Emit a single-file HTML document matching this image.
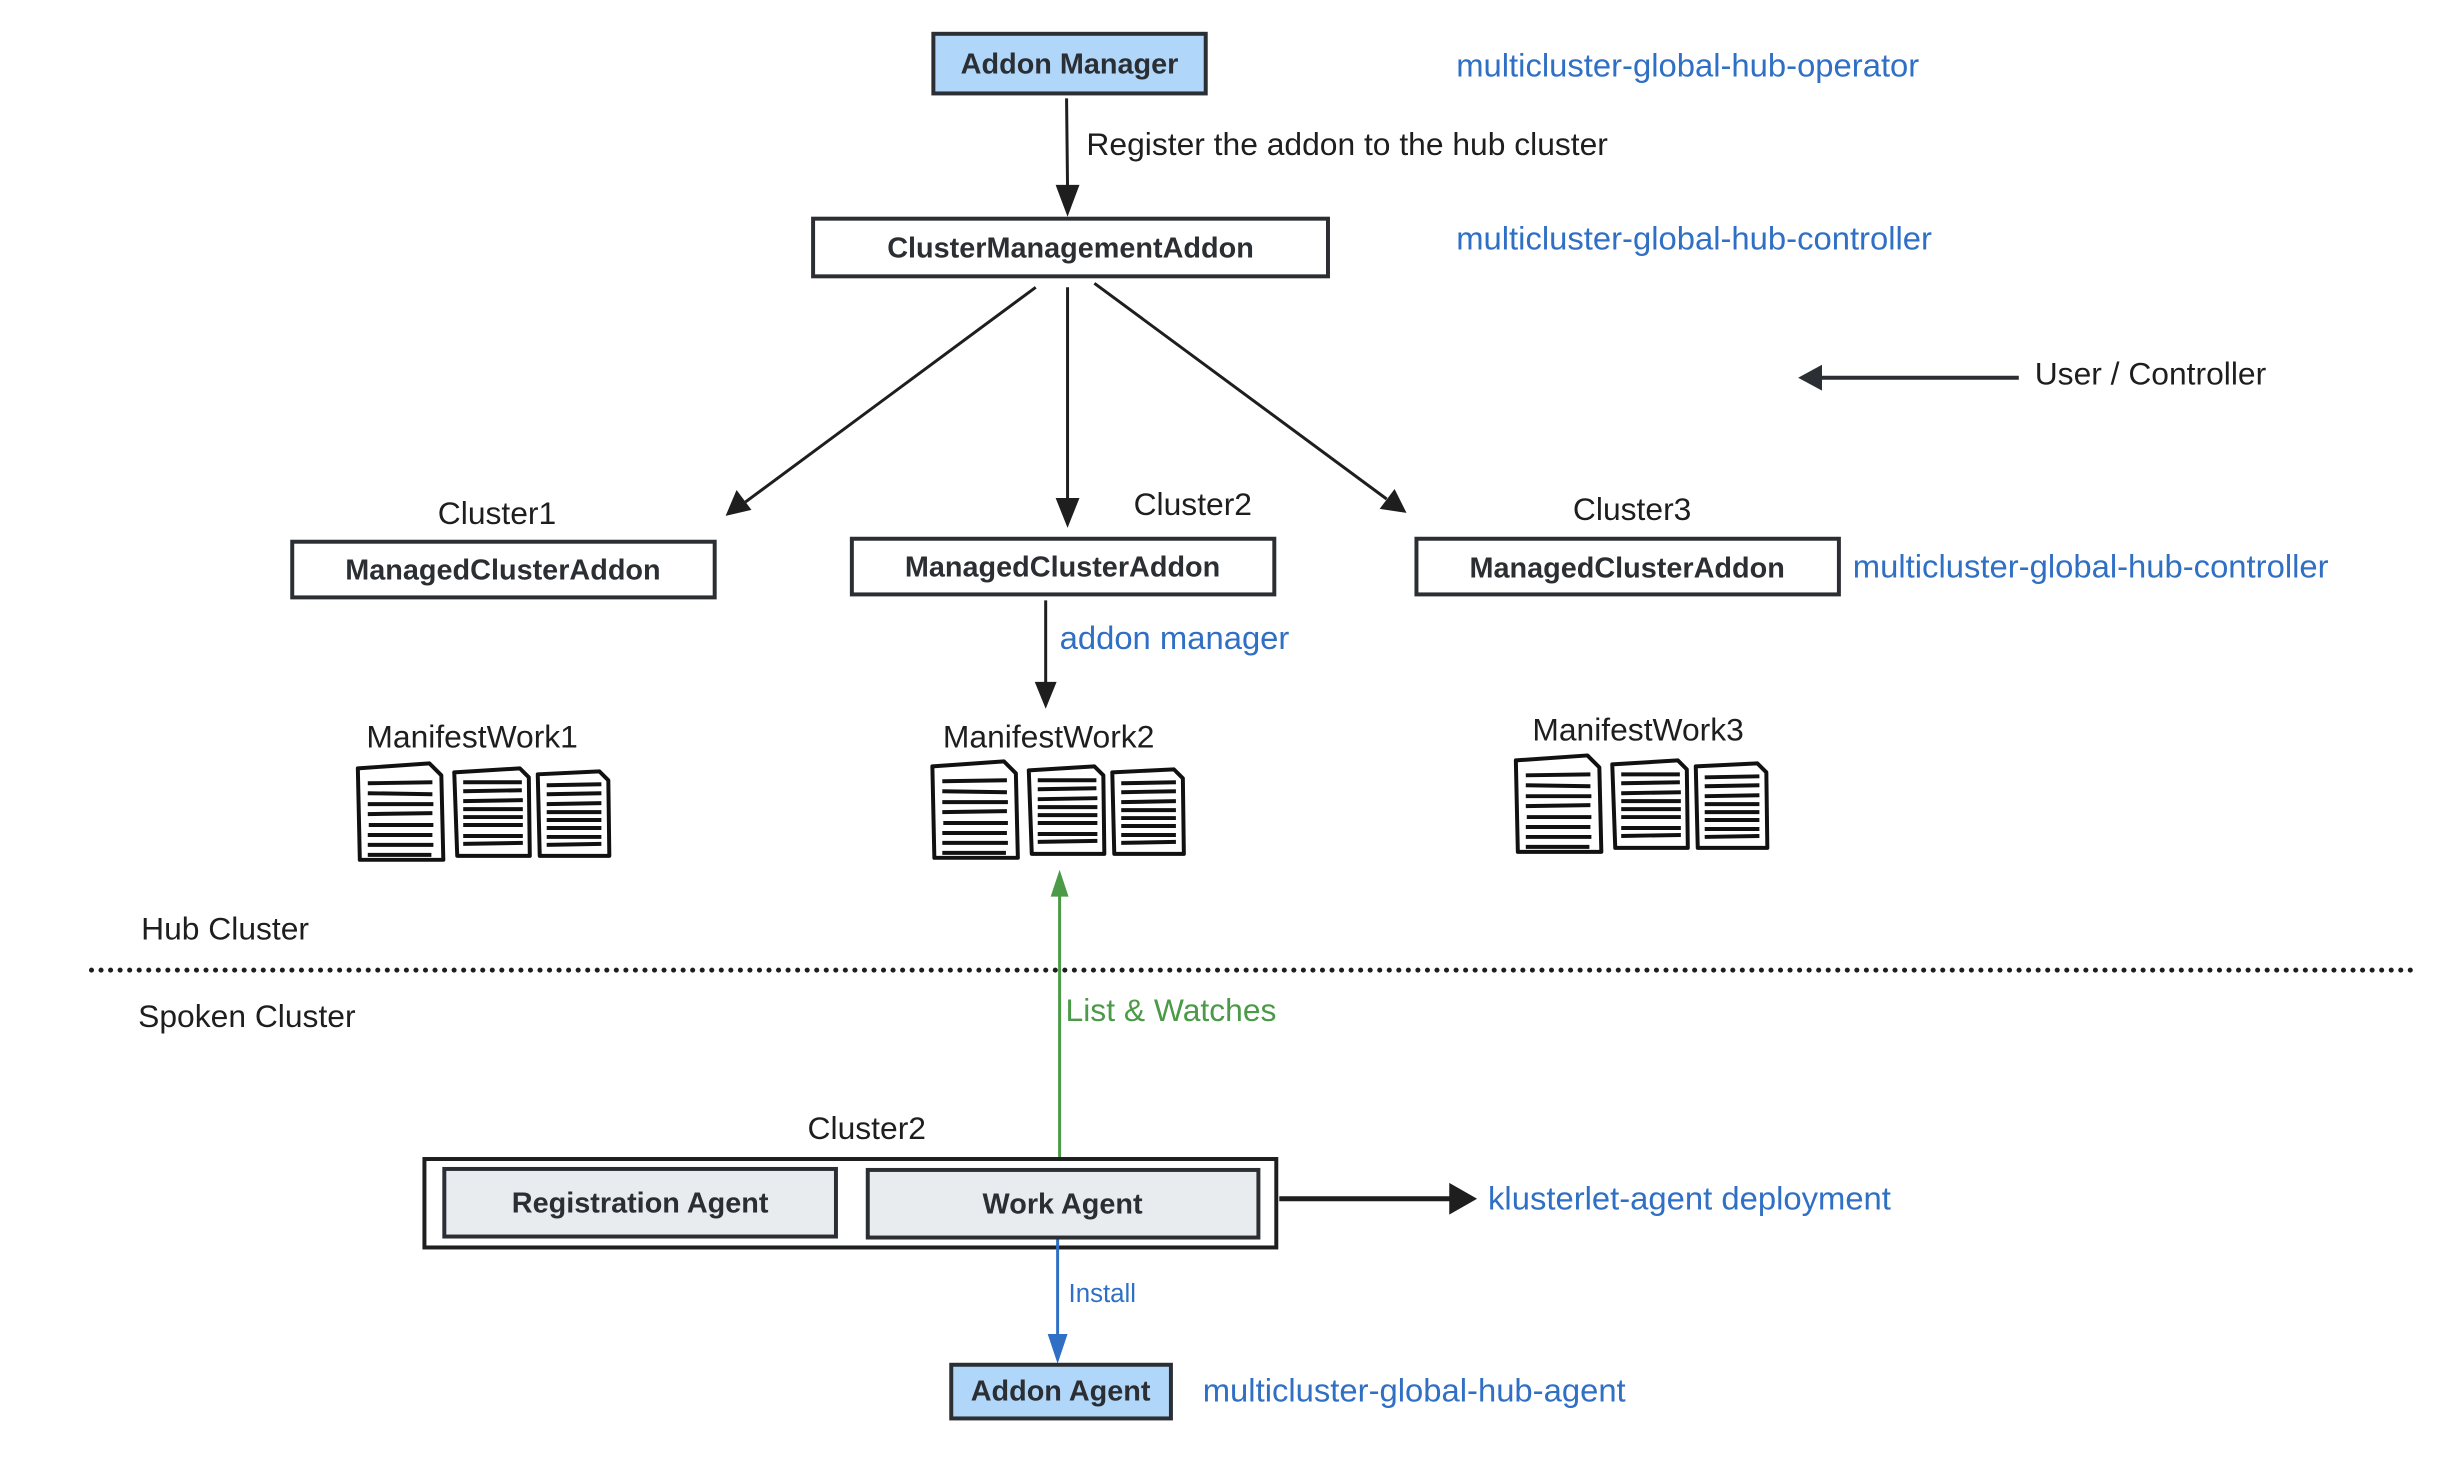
<!DOCTYPE html>
<html><head><meta charset="utf-8"><style>
html,body{margin:0;padding:0;background:#fff;}
svg{display:block;}
text{font-family:"Liberation Sans",sans-serif;}
.lbl{font-size:32px;fill:#1e1e1e;}
.blue{font-size:33px;fill:#2f6fc4;}
.bx{font-size:29px;font-weight:bold;fill:#2b2f33;text-anchor:middle;}
</style></head><body>
<svg width="2460" height="1464" viewBox="0 0 2460 1464" xmlns="http://www.w3.org/2000/svg">
<defs>
<g id="docs" fill="#fff" stroke="#111" stroke-linejoin="round">
 <path d="M0 5 L72 0 L84 12 L86 97 L2 97 Z" stroke-width="4"/>
 <g stroke-width="4"><line x1="10" y1="20" x2="75" y2="19"/><line x1="10" y1="30" x2="75" y2="31"/><line x1="10" y1="41" x2="76" y2="41"/><line x1="10" y1="51" x2="75" y2="50"/><line x1="11" y1="62" x2="76" y2="62"/><line x1="10" y1="72" x2="75" y2="72"/><line x1="10" y1="82" x2="76" y2="82"/><line x1="10" y1="92" x2="74" y2="92"/></g>
 <path d="M97 9 L163 5 L172 14 L173 93 L100 93 Z" stroke-width="4"/>
 <g stroke-width="4"><line x1="106" y1="19" x2="165" y2="19"/><line x1="106" y1="28" x2="165" y2="27"/><line x1="106" y1="38" x2="166" y2="37"/><line x1="106" y1="46" x2="166" y2="46"/><line x1="106" y1="54" x2="166" y2="54"/><line x1="106" y1="62" x2="166" y2="62"/><line x1="106" y1="73" x2="166" y2="73"/><line x1="106" y1="81" x2="166" y2="80"/></g>
 <path d="M181 11 L243 8 L252 17 L253 93 L183 93 Z" stroke-width="4"/>
 <g stroke-width="4"><line x1="190" y1="22" x2="245" y2="21"/><line x1="190" y1="31" x2="245" y2="30"/><line x1="190" y1="41" x2="245" y2="40"/><line x1="190" y1="49" x2="245" y2="49"/><line x1="190" y1="57" x2="245" y2="57"/><line x1="190" y1="65" x2="245" y2="65"/><line x1="190" y1="74" x2="245" y2="74"/><line x1="190" y1="82" x2="245" y2="81"/></g>
</g>
</defs>
<g transform="scale(0.994)">
<rect x="939" y="34" width="274" height="60" fill="#b0d6fa" stroke="#2b2f33" stroke-width="4"/>
<text class="bx" x="1076" y="74">Addon Manager</text>
<text class="blue" x="1465" y="77">multicluster-global-hub-operator</text>

<line x1="1073" y1="99" x2="1074" y2="190" stroke="#1e1e1e" stroke-width="3"/>
<polygon points="1062,186 1086,186 1074,218" fill="#1e1e1e"/>
<text class="lbl" x="1093" y="156">Register the addon to the hub cluster</text>

<rect x="818" y="220" width="518" height="58" fill="#fff" stroke="#2b2f33" stroke-width="4"/>
<text class="bx" x="1077" y="259">ClusterManagementAddon</text>
<text class="blue" x="1465" y="251">multicluster-global-hub-controller</text>

<line x1="1042" y1="289" x2="750" y2="505" stroke="#1e1e1e" stroke-width="3"/>
<polygon points="730,519 741,493 756,513" fill="#1e1e1e"/>
<line x1="1074" y1="289" x2="1074" y2="505" stroke="#1e1e1e" stroke-width="3"/>
<polygon points="1062,501 1086,501 1074,531" fill="#1e1e1e"/>
<line x1="1101" y1="285" x2="1395" y2="502" stroke="#1e1e1e" stroke-width="3"/>
<polygon points="1415,516 1388,512 1403,492" fill="#1e1e1e"/>

<line x1="2031" y1="380" x2="1830" y2="380" stroke="#2b2f33" stroke-width="4"/>
<polygon points="1809,380 1833,367 1833,393" fill="#2b2f33"/>
<text class="lbl" x="2047" y="387">User / Controller</text>

<text class="lbl" x="500" y="527" text-anchor="middle">Cluster1</text>
<rect x="294" y="545" width="425" height="56" fill="#fff" stroke="#2b2f33" stroke-width="4"/>
<text class="bx" x="506" y="583">ManagedClusterAddon</text>

<text class="lbl" x="1200" y="518" text-anchor="middle">Cluster2</text>
<rect x="857" y="542" width="425" height="56" fill="#fff" stroke="#2b2f33" stroke-width="4"/>
<text class="bx" x="1069" y="580">ManagedClusterAddon</text>

<text class="lbl" x="1642" y="523" text-anchor="middle">Cluster3</text>
<rect x="1425" y="542" width="425" height="56" fill="#fff" stroke="#2b2f33" stroke-width="4"/>
<text class="bx" x="1637" y="581">ManagedClusterAddon</text>
<text class="blue" x="1864" y="581">multicluster-global-hub-controller</text>

<line x1="1052" y1="604" x2="1052" y2="690" stroke="#1e1e1e" stroke-width="3"/>
<polygon points="1041,686 1063,686 1052,713" fill="#1e1e1e"/>
<text class="blue" x="1066" y="653">addon manager</text>

<text class="lbl" x="475" y="752" text-anchor="middle">ManifestWork1</text>
<use href="#docs" x="360" y="768"/>
<text class="lbl" x="1055" y="752" text-anchor="middle">ManifestWork2</text>
<use href="#docs" x="938" y="766"/>
<text class="lbl" x="1648" y="745" text-anchor="middle">ManifestWork3</text>
<use href="#docs" x="1525" y="760"/>

<text class="lbl" x="142" y="945">Hub Cluster</text>
<line x1="92" y1="976" x2="2430" y2="976" stroke="#1e1e1e" stroke-width="5" stroke-dasharray="0.1 9.5" stroke-linecap="round"/>
<text class="lbl" x="139" y="1033">Spoken Cluster</text>

<line x1="1066" y1="1169" x2="1066" y2="900" stroke="#4a9a47" stroke-width="3"/>
<polygon points="1057,902 1075,902 1066,875" fill="#4a9a47"/>
<text x="1072" y="1027" style="font-size:32px;fill:#4a9a47">List &amp; Watches</text>

<text class="lbl" x="872" y="1146" text-anchor="middle">Cluster2</text>
<rect x="427" y="1166" width="857" height="89" fill="#fff" stroke="#1e1e1e" stroke-width="4"/>
<rect x="447" y="1176" width="394" height="68" fill="#e8ecef" stroke="#2b2f33" stroke-width="4"/>
<text class="bx" x="644" y="1220">Registration Agent</text>
<rect x="873" y="1177" width="393" height="68" fill="#e8ecef" stroke="#2b2f33" stroke-width="4"/>
<text class="bx" x="1069" y="1221">Work Agent</text>

<line x1="1287" y1="1206" x2="1462" y2="1206" stroke="#1e1e1e" stroke-width="5"/>
<polygon points="1486,1206 1458,1190 1458,1222" fill="#1e1e1e"/>
<text class="blue" x="1497" y="1217">klusterlet-agent deployment</text>

<line x1="1064" y1="1247" x2="1064" y2="1345" stroke="#2f6fc4" stroke-width="3"/>
<polygon points="1054,1342 1074,1342 1064,1372" fill="#2f6fc4"/>
<text x="1075" y="1310" style="font-size:26px;fill:#2f6fc4">Install</text>

<rect x="957" y="1373" width="221" height="54" fill="#b0d6fa" stroke="#2b2f33" stroke-width="4"/>
<text class="bx" x="1067" y="1409">Addon Agent</text>
<text class="blue" x="1210" y="1410">multicluster-global-hub-agent</text>
</g>
</svg>
</body></html>
